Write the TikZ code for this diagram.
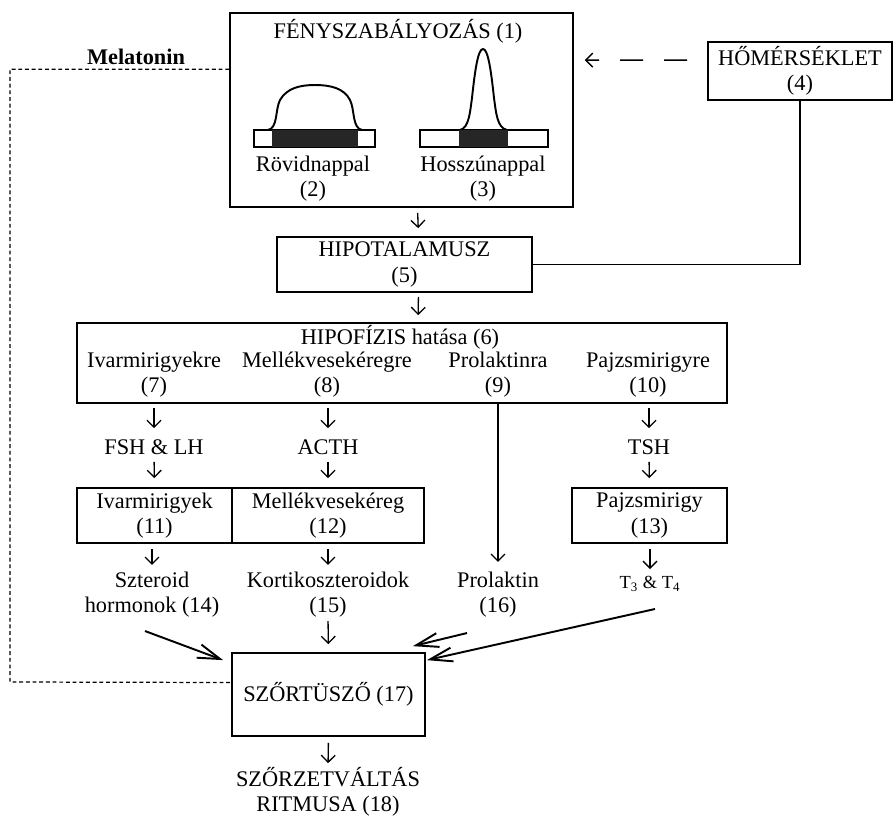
\documentclass[tikz,border=0pt]{standalone}
\usepackage{fontspec}
\setmainfont{Liberation Serif}
\usetikzlibrary{arrows.meta,calc}

\tikzset{
  box/.style={draw, line width=1pt, inner sep=0pt, align=center},
  txt/.style={inner sep=0pt, align=center},
  dn/.style={-{Straight Barb[length=1.4mm,width=2.8mm]}, line width=0.75pt},
  big/.style={-{Straight Barb[length=4.5mm,width=2.8mm]}, line width=1.1pt},
  mel/.style={line width=0.7pt, dash pattern=on 2.2pt off 1.6pt},
  tmp/.style={-{Straight Barb[length=1.4mm,width=2.8mm]}, line width=0.75pt,
    dash pattern=on 0.46cm off 0.42cm}
}

\begin{document}
\begin{tikzpicture}[x=0.02cm, y=-0.02cm, font=\fontsize{12.7}{14.3}\selectfont]

\useasboundingbox (0,0) rectangle (894,816);

% Light control box
\node[box, minimum width=6.86cm, minimum height=3.88cm] (box1) at (401.5,110) {};
\node[txt] (t1) at (398,31) {FÉNYSZABÁLYOZÁS (1)};

% Short day
\draw[line width=1.1pt] (268,130) .. controls (278,128) and (275,110) .. (280,100)
  .. controls (287,88) and (300,85) .. (315,85)
  .. controls (330,85) and (344,88) .. (350,100)
  .. controls (355,110) and (352,128) .. (362,130);
\draw[line width=1pt] (254,130) rectangle (375,147);
\fill[black!85] (272,130) rectangle (358,147);
\node[txt] (t2) at (313,179) {Rövidnappal\\(2)};

% Long day
\draw[line width=1.1pt] (460,130) .. controls (469,128) and (470,112) .. (472,98)
  .. controls (475,70) and (478,49) .. (483,49)
  .. controls (488,49) and (491,70) .. (494,98)
  .. controls (496,112) and (497,128) .. (507,130);
\draw[line width=1pt] (420,130) rectangle (548,147);
\fill[black!85] (459,130) rectangle (508,147);
\node[txt] (t3) at (483,179) {Hosszúnappal\\(3)};

% Temperature
\node[box, minimum width=3.68cm, minimum height=1.16cm] (box4) at (800,71)
  {HŐMÉRSÉKLET\\(4)};
\draw[tmp] ($(box4.north west)+(-20,19)$) -- ($(box1.north east)+(11,48)$);

% Hypothalamus
\node[box, minimum width=5.1cm, minimum height=1.1cm] (box5) at (404.5,264.5)
  {HIPOTALAMUSZ\\(5)};
\draw[line width=0.8pt] (box4.south) |- (box5.east);
\draw[dn, shorten <=1mm, shorten >=1.6mm] ($(box1.south)+(16,0)$) -- ($(box5.north)+(14,0)$);

% Pituitary
\node[box, minimum width=13cm, minimum height=1.6cm] (box6) at (402,363) {};
\draw[dn, shorten <=0.8mm, shorten >=1.4mm] ($(box5.south)+(14,0)$) -- ($(box6.north)+(16,0)$);
\node[txt] (t6) at (400,337) {HIPOFÍZIS hatása (6)};
\node[txt] (t7) at (154,375) {Ivarmirigyekre\\(7)};
\node[txt] (t8) at (327,375) {Mellékvesekéregre\\(8)};
\node[txt] (t9) at (498,375) {Prolaktinra\\(9)};
\node[txt] (t10) at (648,375) {Pajzsmirigyre\\(10)};

% Hormones
\node[txt] (fsh) at (154,447) {FSH \& LH};
\node[txt] (acth) at (328,447) {ACTH};
\node[txt] (tsh) at (649,447) {TSH};
\foreach \a/\b in {t7/fsh, t8/acth, t10/tsh}
  \draw[dn, shorten <=2mm, shorten >=2.2mm] (\a.south -| \b) -- (\b.north);

% Glands
\node[box, minimum width=3.1cm, minimum height=1.1cm] (box11) at (154.5,515.5)
  {Ivarmirigyek\\(11)};
\node[box, minimum width=3.84cm, minimum height=1.1cm] (box12) at (328,515.5)
  {Mellékvesekéreg\\(12)};
\node[box, minimum width=3.1cm, minimum height=1.1cm] (box13) at (649.5,515.5)
  {Pajzsmirigy\\(13)};
\foreach \a/\b in {fsh/box11, acth/box12, tsh/box13}
  \draw[dn, shorten <=1.4mm, shorten >=1.8mm] (\a.south) -- (\b.north);

% Products
\node[txt] (t14) at (152,595) {Szteroid\\hormonok (14)};
\node[txt] (t15) at (328,595) {Kortikoszteroidok\\(15)};
\node[txt] (t16) at (498,595) {Prolaktin\\(16)};
\node[txt, font=\fontsize{10.5}{12}\selectfont] (t34) at (650,584)
  {T\textsubscript{3} \& T\textsubscript{4}};
\foreach \a/\b in {box11/t14, box12/t15, box13/t34}
  \draw[dn, shorten <=1mm, shorten >=1.4mm] (\a.south -| \b) -- (\b.north);
\draw[dn, shorten >=2mm] (t9 |- box6.south) -- (t16.north);

% Hair follicle
\node[box, minimum width=3.86cm, minimum height=1.66cm] (box17) at (328.5,694.5)
  {SZŐRTÜSZŐ (17)};
\draw[dn, shorten <=0.6mm, shorten >=1.6mm] (t15.south) -- (box17.north);
\draw[big] ($(t14.south)+(-7,13)$) -- ($(box17.north west)+(-8,8)$);
\draw[big] ($(t16.south)+(-31,15)$) -- ($(box17.north east)+(-13,-6)$);
\draw[big] ($(t34.south)+(5,17)$) -- ($(box17.north east)+(1,8)$);

% Melatonin
\node[txt, font=\fontsize{12.7}{14.3}\selectfont\bfseries] (mel) at (136,57) {Melatonin};
\coordinate (melL) at (10,0);
\draw[mel] ($(box1.north west)+(0,57)$) -| ($(melL)+(0,682)$) -- ($(box17.west)+(0,-12)$);

% Moult rhythm
\node[txt] (t18) at (328,792) {SZŐRZETVÁLTÁS\\RITMUSA (18)};
\draw[dn, shorten <=1.2mm, shorten >=0.8mm] (box17.south) -- (t18.north);

\end{tikzpicture}
\end{document}
